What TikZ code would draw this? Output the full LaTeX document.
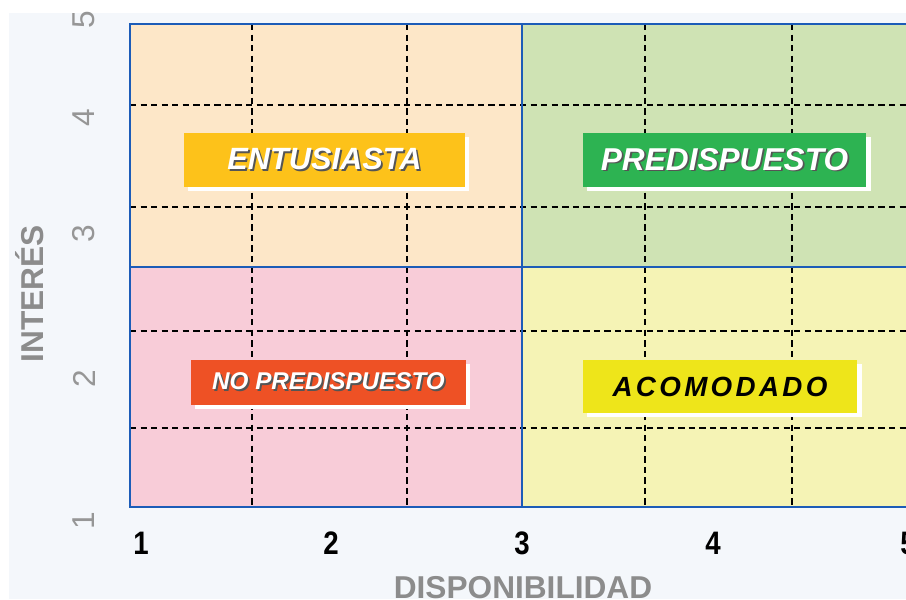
\documentclass[tikz,border=0pt]{standalone}
\usepackage{fontspec}
\setmainfont{Liberation Sans}
\usetikzlibrary{shadows}
\definecolor{backdrop}{RGB}{244,247,251}
\definecolor{enthusiast}{RGB}{253,231,200}
\definecolor{willing}{RGB}{207,227,180}
\definecolor{unwilling}{RGB}{248,204,216}
\definecolor{settled}{RGB}{245,243,181}
\definecolor{frame}{RGB}{28,92,184}
\definecolor{enthusiasttag}{RGB}{253,194,26}
\definecolor{willingtag}{RGB}{45,179,82}
\definecolor{unwillingtag}{RGB}{238,81,37}
\definecolor{settledtag}{RGB}{238,229,26}
\definecolor{axisgray}{RGB}{140,140,140}
\definecolor{tickgray}{RGB}{150,150,150}
\definecolor{shade}{RGB}{85,85,85}
\newcommand{\shadowword}[1]{\makebox[0pt][l]{\raisebox{-1pt}{\hspace{1pt}\textcolor{shade}{#1}}}#1}
\tikzstyle{frameline}=[draw=frame, line width=1.3pt]
\tikzstyle{gridline}=[black, line width=0.6pt, dash pattern=on 3.6pt off 2.4pt]
\tikzstyle{tag}=[inner sep=0pt, font=\bfseries\itshape, drop shadow={shadow xshift=2.3pt, shadow yshift=-2.3pt, fill=white, opacity=1}]
\tikzstyle{xtick}=[xscale=0.85, font=\fontsize{18.5}{18.5}\selectfont\bfseries]
\tikzstyle{ytick}=[rotate=90, text=tickgray, font=\fontsize{18}{18}\selectfont]
\tikzstyle{axistitle}=[text=axisgray, font=\fontsize{18}{18}\selectfont\bfseries]

\begin{document}
\begin{tikzpicture}[x=0.02cm, y=-0.02cm]
  \useasboundingbox (0,0) rectangle (906,599);
  \fill[backdrop] (9,13) rectangle (906,599);

  %% Quadrants
  \fill[enthusiast] (130,24) rectangle (522,267);
  \fill[willing] (522,24) rectangle (914,267);
  \fill[unwilling] (130,267) rectangle (522,507);
  \fill[settled] (522,267) rectangle (914,507);

  \foreach \gx in {252,407,645,792}
    \draw[gridline] (\gx,24) -- (\gx,507);
  \foreach \gy in {105,207,331,428}
    \draw[gridline] (130,\gy) -- (914,\gy);

  \draw[frameline] (130,24) rectangle (914,507);
  \draw[frameline] (522,24) -- (522,507);
  \draw[frameline] (130,267) -- (914,267);

  %% Tags
  \draw (324.5,160) node[tag, fill=enthusiasttag, minimum width=160.4pt, minimum height=30.6pt, text=white, font=\fontsize{17.5}{17.5}\selectfont\bfseries\itshape] (Tenthusiast) {\shadowword{ENTUSIASTA}};
  \draw (724.5,160) node[tag, fill=willingtag, minimum width=161.6pt, minimum height=30.6pt, text=white, font=\fontsize{18}{18}\selectfont\bfseries\itshape] (Twilling) {\shadowword{PREDISPUESTO}};
  \draw (328.5,382.5) node[tag, fill=unwillingtag, minimum width=157pt, minimum height=25.5pt, text=white, font=\fontsize{13.8}{13.8}\selectfont\bfseries\itshape] (Tunwilling) {\shadowword{NO PREDISPUESTO}};
  \draw (720,386.5) node[tag, fill=settledtag, minimum width=156.5pt, minimum height=30pt, text=black, font=\fontsize{15.8}{15.8}\selectfont\bfseries\itshape\addfontfeature{LetterSpace=12}] (Tsettled) {ACOMODADO};

  %% Axis numbers
  \draw (141,543) node[xtick] (X1) {1};
  \draw (331,543) node[xtick] (X2) {2};
  \draw (522,543) node[xtick] (X3) {3};
  \draw (713,543) node[xtick] (X4) {4};
  \draw (908,543) node[xtick] (X5) {5};

  \draw (84,521) node[ytick] (Y1) {1};
  \draw (84,379) node[ytick] (Y2) {2};
  \draw (84,234) node[ytick] (Y3) {3};
  \draw (84,118) node[ytick] (Y4) {4};
  \draw (84,20) node[ytick] (Y5) {5};

  %% Axis titles
  \draw (523,588) node[axistitle] (Xtitle) {DISPONIBILIDAD};
  \draw (30,294) node[axistitle, rotate=90] (Ytitle) {INTERÉS};
\end{tikzpicture}
\end{document}
